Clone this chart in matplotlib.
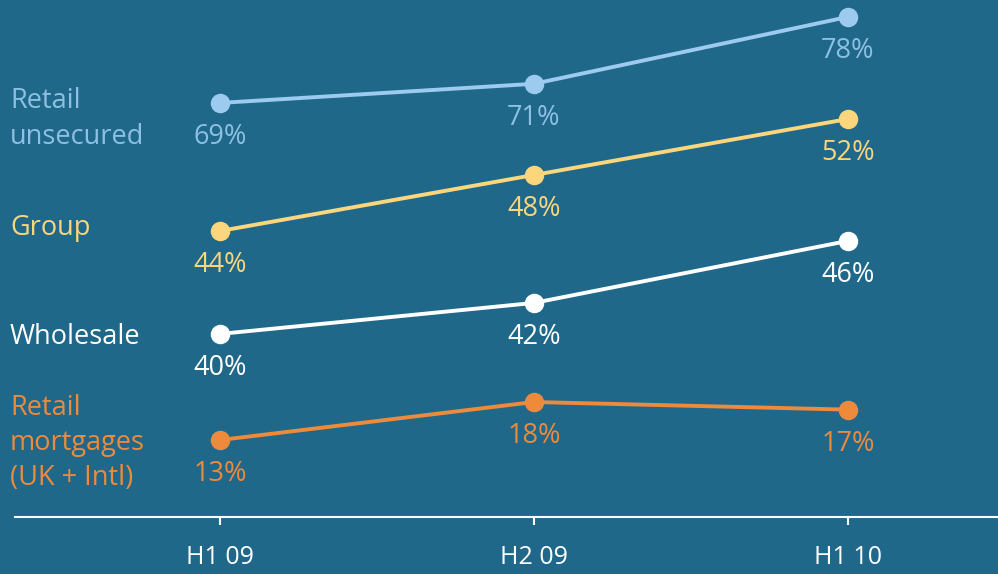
import matplotlib
matplotlib.use("Agg")
import matplotlib.pyplot as plt

# ---- data ----
periods = ["H1 09", "H2 09", "H1 10"]
series_names = ["Retail\nunsecured", "Group", "Wholesale", "Retail\nmortgages\n(UK + Intl)"]
retail_unsecured = [69, 71, 78]
group = [44, 48, 52]
wholesale = [40, 42, 46]
retail_mortgages = [13, 18, 17]

# ---- styling / layout ----
BG = "#206889"
colors = ["#9dcbef", "#fbd67c", "#ffffff", "#ee8a3c"]
text_colors = ["#8ec0e2", "#fbd67c", "#ffffff", "#ee8a3c"]
ylims = [(25.67, 79.77), (23.57, 60.5), (28.19, 61.54), (2.87, 70.9)]
label_y_px = [119, 228, 337, 443]
FONT = "Open Sans"
FS = 19.5

plt.rcParams["font.family"] = [FONT, "DejaVu Sans"]

W, H = 998, 574
fig = plt.figure(figsize=(W / 100, H / 100), dpi=100)
fig.patch.set_facecolor(BG)

ax = fig.add_axes([15 / W, 57 / H, 983 / W, 517 / H])
ax.set_facecolor(BG)
x = list(range(len(periods)))
ax.set_xlim(-0.653, 2.478)
ax.set_ylim(0, 1)
for s in ["top", "right", "left"]:
    ax.spines[s].set_visible(False)
ax.spines["bottom"].set_color("white")
ax.spines["bottom"].set_linewidth(1.5)
ax.set_yticks([])
ax.set_xticks(x)
ax.set_xticklabels(periods)
ax.tick_params(axis="x", colors="white", direction="out", length=6, width=1.5,
               pad=14, labelsize=FS - 1.5)

all_series = [retail_unsecured, group, wholesale, retail_mortgages]
for vals, col, tcol, yl, name, ly in zip(all_series, colors, text_colors, ylims,
                                         series_names, label_y_px):
    a = ax.twinx()
    a.set_ylim(*yl)
    a.patch.set_visible(False)
    for s in a.spines.values():
        s.set_visible(False)
    a.set_yticks([])
    a.plot(x, vals, color=col, lw=2.8, marker="o", markersize=13, clip_on=False,
           solid_capstyle="round")
    for xi, v in zip(x, vals):
        a.annotate(f"{v}%", (xi, v), xytext=(0, -34 * 0.72), textcoords="offset points",
                   ha="center", va="center", color=tcol, fontsize=FS)
    fig.text(10 / W, 1 - ly / H, name, color=tcol, fontsize=FS, ha="left",
             va="center", linespacing=1.34)

fig.savefig("out.png", dpi=100, facecolor=BG)
